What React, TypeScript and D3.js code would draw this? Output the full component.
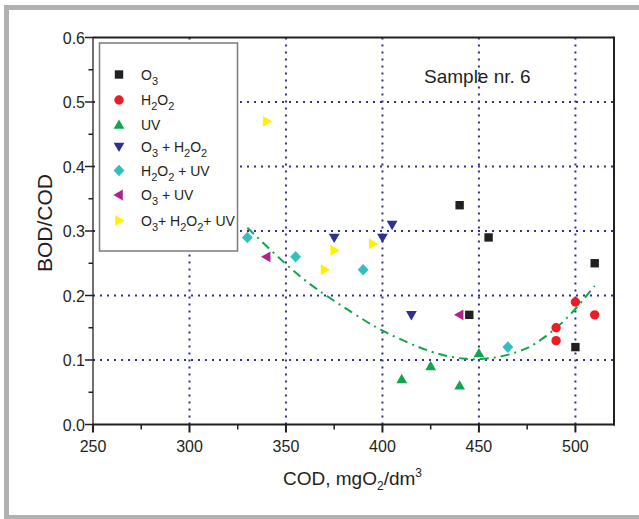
import React from "react";
import * as d3 from "d3";

// ---- data ----
const xTicks = [250, 300, 350, 400, 450, 500];
const xMinorTicks = [275, 325, 375, 425, 475];
const yTicks = [0.0, 0.1, 0.2, 0.3, 0.4, 0.5, 0.6];
const yMinorTicks = [0.05, 0.15, 0.25, 0.35, 0.45, 0.55];
const xGrid = [300, 350, 400, 450, 500];
const yGrid = [0.1, 0.2, 0.3, 0.4, 0.5];

const o3X = [440, 445, 455, 500, 510];
const o3Y = [0.34, 0.17, 0.29, 0.12, 0.25];
const h2o2X = [490, 490, 500, 510];
const h2o2Y = [0.15, 0.13, 0.19, 0.17];
const uvX = [410, 425, 440, 450];
const uvY = [0.07, 0.09, 0.06, 0.11];
const o3h2o2X = [375, 400, 405, 415];
const o3h2o2Y = [0.29, 0.29, 0.31, 0.17];
const h2o2uvX = [330, 355, 390, 465];
const h2o2uvY = [0.29, 0.26, 0.24, 0.12];
const o3uvX = [340, 440];
const o3uvY = [0.26, 0.17];
const allX = [340, 370, 375, 395];
const allY = [0.47, 0.24, 0.27, 0.28];

const fitX = [330, 352, 365, 385, 400, 420, 430, 442, 452, 464, 475, 480, 495, 510];
const fitY = [0.305, 0.242, 0.211, 0.172, 0.144, 0.118, 0.108, 0.101, 0.101, 0.106, 0.118, 0.126, 0.16, 0.215];

type Part = [string, string];
const labelO3: Part[] = [["O", ""], ["3", "sub"]];
const labelH2O2: Part[] = [["H", ""], ["2", "sub"], ["O", ""], ["2", "sub"]];
const labelUV: Part[] = [["UV", ""]];
const labelO3H2O2: Part[] = [["O", ""], ["3", "sub"], [" + H", ""], ["2", "sub"], ["O", ""], ["2", "sub"]];
const labelH2O2UV: Part[] = [["H", ""], ["2", "sub"], ["O", ""], ["2", "sub"], [" + UV", ""]];
const labelO3UV: Part[] = [["O", ""], ["3", "sub"], [" + UV", ""]];
const labelAll: Part[] = [["O", ""], ["3", "sub"], ["+ H", ""], ["2", "sub"], ["O", ""], ["2", "sub"], ["+ UV", ""]];

const series = [
  { label: labelO3, xs: o3X, ys: o3Y, shape: "square", color: "#231f20" },
  { label: labelH2O2, xs: h2o2X, ys: h2o2Y, shape: "circle", color: "#ed1c24" },
  { label: labelUV, xs: uvX, ys: uvY, shape: "up", color: "#13a54b" },
  { label: labelO3H2O2, xs: o3h2o2X, ys: o3h2o2Y, shape: "down", color: "#2e3192" },
  { label: labelH2O2UV, xs: h2o2uvX, ys: h2o2uvY, shape: "diamond", color: "#32bfbf" },
  { label: labelO3UV, xs: o3uvX, ys: o3uvY, shape: "left", color: "#b0228c" },
  { label: labelAll, xs: allX, ys: allY, shape: "right", color: "#fff200" },
];

// ---- layout ----
const W = 639;
const H = 519;
const L = 93;
const R = 614;
const T = 37.5;
const B = 424.5;
const TXT = "#231f20";
const FONT = "'Liberation Sans', Arial, Helvetica, sans-serif";

const x = d3.scaleLinear().domain([250, 520]).range([L, R]);
const y = d3.scaleLinear().domain([0, 0.6]).range([B, T]);

function marker(shape: string, cx: number, cy: number): string {
  const p = d3.path();
  if (shape === "square") {
    p.rect(cx - 4.2, cy - 4.2, 8.4, 8.4);
  } else if (shape === "circle") {
    p.arc(cx, cy, 4.7, 0, Math.PI * 2);
  } else if (shape === "up") {
    p.moveTo(cx, cy - 5.6);
    p.lineTo(cx + 5.4, cy + 3.8);
    p.lineTo(cx - 5.4, cy + 3.8);
    p.closePath();
  } else if (shape === "down") {
    p.moveTo(cx, cy + 5.6);
    p.lineTo(cx + 5.4, cy - 3.8);
    p.lineTo(cx - 5.4, cy - 3.8);
    p.closePath();
  } else if (shape === "left") {
    p.moveTo(cx - 5.6, cy);
    p.lineTo(cx + 3.8, cy - 5.4);
    p.lineTo(cx + 3.8, cy + 5.4);
    p.closePath();
  } else if (shape === "right") {
    p.moveTo(cx + 5.6, cy);
    p.lineTo(cx - 3.8, cy - 5.4);
    p.lineTo(cx - 3.8, cy + 5.4);
    p.closePath();
  } else {
    p.moveTo(cx, cy - 5.8);
    p.lineTo(cx + 5.4, cy);
    p.lineTo(cx, cy + 5.8);
    p.lineTo(cx - 5.4, cy);
    p.closePath();
  }
  return p.toString();
}

function Label({ parts, x0, y0, size, subSize }: { parts: Part[]; x0: number; y0: number; size: number; subSize: number }) {
  let shift = 0;
  const spans: React.ReactNode[] = [];
  parts.forEach((pt, i) => {
    const target = pt[1] === "sub" ? 5 : pt[1] === "sup" ? -8 : 0;
    const dy = target - shift;
    shift = target;
    spans.push(
      <tspan key={i} dy={dy} fontSize={pt[1] ? subSize : size}>
        {pt[0]}
      </tspan>
    );
  });
  return (
    <text x={x0} y={y0} fontSize={size} fill={TXT} fontFamily={FONT} style={{ whiteSpace: "pre" }}>
      {spans}
    </text>
  );
}

const legendRowsY = [74.5, 100, 125, 146.5, 170.5, 195, 220.5];

export default function App() {
  const fitLine = d3
    .line<number>()
    .x((_, i) => x(fitX[i]))
    .y((d) => y(d))
    .curve(d3.curveBasis);

  return (
    <div style={{ position: "absolute", left: 0, top: 0 }}>
      <svg width={W} height={H} style={{ display: "block", background: "#fff" }}>
        {/* outer frame */}
        <rect x={6.5} y={7.5} width={700} height={510} fill="none" stroke="#b1b1b1" strokeWidth={5} />

        {/* grid */}
        {xGrid.map((v) => (
          <line key={"gx" + v} x1={x(v)} x2={x(v)} y1={T} y2={B} stroke="#2e3192" strokeWidth={2} strokeDasharray="2 5" />
        ))}
        {yGrid.map((v) => (
          <line key={"gy" + v} x1={L} x2={R} y1={y(v)} y2={y(v)} stroke="#2e3192" strokeWidth={2} strokeDasharray="2 5" />
        ))}

        {/* legend box */}
        <rect x={99.5} y={43} width={138} height={208} fill="#fff" stroke="#7a7a7a" strokeWidth={1.5} />
        {series.map((s, i) => (
          <g key={"lg" + i}>
            <path d={marker(s.shape, 119, legendRowsY[i])} fill={s.color} />
            <Label parts={s.label} x0={141} y0={legendRowsY[i] + 5} size={14} subSize={11} />
          </g>
        ))}

        {/* fit curve */}
        <path d={fitLine(fitY) || ""} fill="none" stroke="#13a54b" strokeWidth={2} strokeDasharray="9 5 2 5" />

        {/* points */}
        {series.map((s, i) =>
          s.xs.map((xv, j) => <path key={"p" + i + "-" + j} d={marker(s.shape, x(xv), y(s.ys[j]))} fill={s.color} />)
        )}

        {/* plot border */}
        <line x1={L} x2={R} y1={T} y2={T} stroke={TXT} strokeWidth={2} />
        <line x1={R} x2={R} y1={T - 1} y2={B + 1} stroke={TXT} strokeWidth={2} />
        <line x1={L} x2={R + 1} y1={B} y2={B} stroke={TXT} strokeWidth={2} />
        <line x1={L} x2={L} y1={T} y2={B} stroke={TXT} strokeWidth={1.3} />

        {/* x ticks */}
        {xTicks.map((v) => (
          <g key={"xt" + v}>
            <line x1={x(v)} x2={x(v)} y1={B} y2={B + 8} stroke={TXT} strokeWidth={2} />
            <text x={x(v)} y={451.5} textAnchor="middle" fontSize={16} fill={TXT} fontFamily={FONT}>
              {v}
            </text>
          </g>
        ))}
        {xMinorTicks.map((v) => (
          <line key={"xm" + v} x1={x(v)} x2={x(v)} y1={B} y2={B + 5} stroke={TXT} strokeWidth={1.5} />
        ))}

        {/* y ticks */}
        {yTicks.map((v) => (
          <g key={"yt" + v}>
            <line x1={L - 8} x2={L} y1={y(v)} y2={y(v)} stroke={TXT} strokeWidth={1.5} />
            <text x={85} y={y(v) + 6} textAnchor="end" fontSize={16} fill={TXT} fontFamily={FONT}>
              {v.toFixed(1)}
            </text>
          </g>
        ))}
        {yMinorTicks.map((v) => (
          <line key={"ym" + v} x1={L - 4.5} x2={L} y1={y(v)} y2={y(v)} stroke={TXT} strokeWidth={1.5} />
        ))}

        {/* axis titles */}
        <Label
          parts={[["COD, mgO", ""], ["2", "sub"], ["/dm", ""], ["3", "sup"]]}
          x0={283}
          y0={485}
          size={19}
          subSize={12}
        />
        <text
          transform={`translate(51.5,223) rotate(-90)`}
          textAnchor="middle"
          fontSize={21}
          fill={TXT}
          fontFamily={FONT}
        >
          BOD/COD
        </text>

        {/* annotation */}
        <text x={424} y={83} fontSize={19} fill={TXT} fontFamily={FONT}>
          Sample nr. 6
        </text>
      </svg>
    </div>
  );
}
